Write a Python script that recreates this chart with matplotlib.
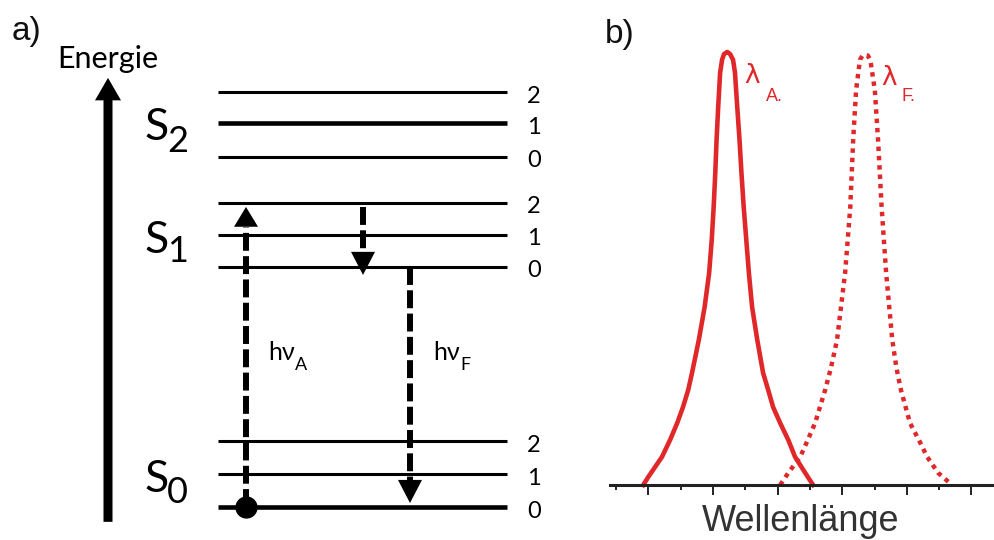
import matplotlib
matplotlib.use("Agg")
import matplotlib.pyplot as plt

# ---- panel a: Jablonski diagram (energies in arbitrary units) ----
s0_levels = [0.0, 1.0, 2.0]
s1_levels = [7.29, 8.25, 9.22]
s2_levels = [10.62, 11.64, 12.58]
level_labels = ["0", "1", "2"]
state_names = ["S", "S", "S"]
state_subs = ["0", "1", "2"]

# ---- panel b: spectra (wavelength in tick units, normalised intensity) ----
abs_x = [0.84, 0.99, 1.21, 1.42, 1.67, 1.89, 2.07, 2.23, 2.35, 2.56, 2.74, 2.88,
         2.96, 3.02, 3.07, 3.11, 3.16, 3.22, 3.28, 3.34, 3.44, 3.53, 3.62, 3.68,
         3.75, 3.82, 3.88, 3.95, 4.03, 4.11, 4.21, 4.37, 4.55, 4.71, 4.86, 5.08,
         5.33, 5.54, 5.76, 5.94, 6.10]
abs_y = [0.0, 0.018, 0.042, 0.065, 0.104, 0.143, 0.180, 0.219, 0.259, 0.335, 0.411, 0.490,
         0.566, 0.642, 0.721, 0.797, 0.873, 0.952, 0.982, 0.995, 1.0, 0.995, 0.982, 0.952,
         0.873, 0.797, 0.721, 0.642, 0.566, 0.490, 0.411, 0.335, 0.259, 0.219, 0.180, 0.143,
         0.104, 0.065, 0.039, 0.018, 0.0]
em_x = [5.08, 5.33, 5.70, 5.91, 6.16, 6.47, 6.65, 6.84, 7.09, 7.25, 7.34, 7.43,
        7.55, 7.63, 7.71, 7.79, 7.87, 8.01, 8.11, 8.22, 8.36, 8.55, 8.68, 8.82,
        9.10, 9.40, 9.63, 9.97, 10.40]
em_y = [0.0, 0.028, 0.065, 0.100, 0.143, 0.219, 0.270, 0.335, 0.490, 0.642, 0.797, 0.912,
        0.982, 0.992, 0.993, 0.992, 0.982, 0.912, 0.797, 0.642, 0.490, 0.335, 0.270, 0.219,
        0.143, 0.100, 0.065, 0.028, 0.0]
major_ticks = [1, 3, 5, 7, 9, 11]
minor_ticks = [0, 2, 4, 6, 8, 10]

RED = "#e0282a"
FONT_A = ["Lato", "DejaVu Sans"]
FONT_B = ["Liberation Sans", "DejaVu Sans"]


def draw_levels(ax, levels, thick):
    for i, e in enumerate(levels):
        lw = 3.3 if i == thick else 2.2
        ax.plot([218, 507], [e, e], color="black", lw=lw, solid_capstyle="butt")
        ax.text(534, e - 0.12, level_labels[i], ha="center", va="center",
                fontsize=17, family=FONT_A)


def dashed_arrow(ax, x, e_start, e_tip, head_len):
    d = 1 if e_tip > e_start else -1
    ax.plot([x, x], [e_start, e_tip - d * head_len], color="black", lw=4.3,
            linestyle=(0, (3, 0.9)), solid_capstyle="butt")
    ax.arrow(x, e_tip - d * head_len, 0, d * head_len, width=0.01,
             head_width=24, head_length=head_len, length_includes_head=True,
             color="black", lw=0)


fig = plt.figure(figsize=(9.94, 5.40), dpi=100)

ax = fig.add_axes([0, 0, 1, 1])
ax.set_xlim(0, 994)
ax.set_ylim(-0.99, 15.37)
ax.axis("off")

draw_levels(ax, s0_levels, 0)
draw_levels(ax, s1_levels, -1)
draw_levels(ax, s2_levels, 1)

# state labels
for name, sub, e_s, e_sub in zip(state_names, state_subs,
                                 [0.46, 7.71, 11.13], [0.13, 7.44, 10.77]):
    ax.text(144, e_s, name, fontsize=32, family=FONT_A, va="baseline")
    ax.text(167, e_sub, sub, fontsize=26, family=FONT_A, va="baseline")

# energy axis arrow
ax.arrow(108, -0.44, 0, 13.45, width=9, head_width=26, head_length=0.68,
         length_includes_head=True, color="black", lw=0)
ax.text(108, 13.31, "Energie", ha="center", va="baseline",
        fontsize=22, family=FONT_A)

# transitions
dashed_arrow(ax, 246, s0_levels[0], 9.10, 0.6)
dashed_arrow(ax, 363, 9.10, 7.04, 0.7)
dashed_arrow(ax, 410, s1_levels[0], 0.13, 0.7)
ax.plot([246], [s0_levels[0]], "o", color="black", markersize=15, zorder=5)

ax.text(268, 4.45, "hν", fontsize=18, family=FONT_A, va="baseline")
ax.text(295, 4.15, "A", fontsize=13, family=FONT_A, va="baseline")
ax.text(433, 4.45, "hν", fontsize=18, family=FONT_A, va="baseline")
ax.text(460, 4.15, "F", fontsize=13, family=FONT_A, va="baseline")

# ---- panel b ----
axb = fig.add_axes([610 / 994, 55 / 540, 384 / 994, 485 / 540])
axb.set_xlim(-0.19, 11.70)
axb.set_ylim(0, 1.12)
axb.patch.set_alpha(0)
for side in ["top", "left", "right"]:
    axb.spines[side].set_visible(False)
axb.spines["bottom"].set_linewidth(2.2)
axb.spines["bottom"].set_color("#222222")
axb.set_yticks([])
axb.set_xticks(major_ticks)
axb.set_xticks(minor_ticks, minor=True)
axb.tick_params(axis="x", which="major", length=7, width=1.4, color="#222222",
                labelbottom=False)
axb.tick_params(axis="x", which="minor", length=3.6, width=1.4, color="#222222")

axb.plot(abs_x, abs_y, color=RED, lw=3.3, clip_on=False, solid_joinstyle="round")
axb.plot(em_x, em_y, color=RED, lw=3.2, linestyle=(0, (1, 1.1)), clip_on=False)

axb.text(3.97, 0.928, "λ", color=RED, fontsize=19, family=["DejaVu Sans"], va="baseline")
axb.text(4.64, 0.886, "A.", color=RED, fontsize=13, family=FONT_B, va="baseline")
axb.text(8.22, 0.924, "λ", color=RED, fontsize=19, family=["DejaVu Sans"], va="baseline")
axb.text(8.84, 0.886, "F.", color=RED, fontsize=13, family=FONT_B, va="baseline")

fig.text(801 / 994, 9 / 540, "Wellenlänge", ha="center", va="baseline",
         fontsize=26, family=FONT_B, color="#333333")
fig.text(12 / 994, 500 / 540, "a)", va="baseline", fontsize=24, family=FONT_B,
         color="#111111")
fig.text(605 / 994, 497 / 540, "b)", va="baseline", fontsize=24, family=FONT_B,
         color="#111111")

fig.savefig("out.png", dpi=100)
